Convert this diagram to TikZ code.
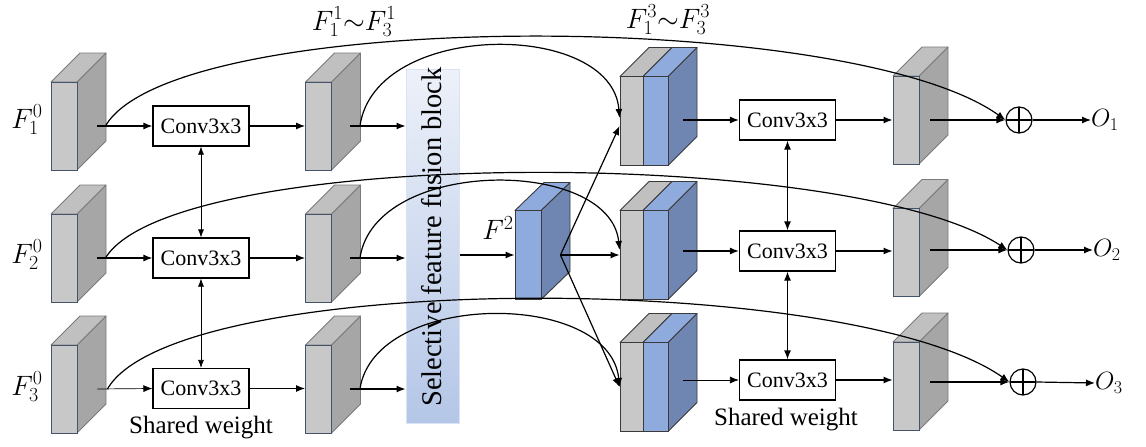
\RequirePackage{fix-cm}
\documentclass[tikz,border=0pt]{standalone}
\usepackage{fontspec}
\setmainfont{Liberation Serif}
\DeclareMathSizes{28}{28}{20}{15}
\DeclareMathSizes{25}{25}{18}{13}
\usetikzlibrary{arrows.meta}
\definecolor{gfrontc}{HTML}{C8C8C8}
\definecolor{gsidec}{HTML}{A6A6A6}
\definecolor{gtopc}{HTML}{C0C0C0}
\definecolor{bfrontc}{HTML}{8FAADC}
\definecolor{bsidec}{HTML}{6F86B2}
\definecolor{btopc}{HTML}{8FAADC}
\definecolor{fedgec}{HTML}{44546A}
\definecolor{gedgec}{HTML}{7A7A7A}
\definecolor{dedgec}{HTML}{3A3A3A}
\definecolor{fustop}{HTML}{EDF1F9}
\definecolor{fusbot}{HTML}{B4C6E7}
\definecolor{fusedge}{HTML}{DAE3F3}
\tikzset{
  gface/.style={draw=gedgec, line width=0.8pt, line join=round},
  dface/.style={draw=dedgec, line width=0.9pt, line join=round},
  gfrontbox/.style={draw=fedgec, fill=gfrontc, line width=0.9pt, minimum width=26pt, minimum height=88pt, inner sep=0pt},
  bfrontbox/.style={draw=dedgec, fill=bfrontc, line width=0.9pt, minimum height=89pt, inner sep=0pt},
  cgfrontbox/.style={draw=dedgec, fill=gfrontc, line width=0.9pt, minimum height=89pt, inner sep=0pt},
  arr/.style={-{Latex[length=9pt,width=7pt]}, line width=1.2pt},
  tarr/.style={-{Latex[length=9pt,width=7pt]}, line width=0.7pt},
  dblthin/.style={{Latex[length=8pt,width=6pt]}-{Latex[length=8pt,width=6pt]}, line width=0.7pt},
  dblthick/.style={{Latex[length=9pt,width=7pt]}-{Latex[length=9pt,width=7pt]}, line width=1.2pt},
  convbox/.style={draw, line width=1.2pt, minimum width=96pt, minimum height=40pt, inner sep=0pt, font=\fontsize{22}{24}\selectfont},
  oplusnode/.style={circle, draw, line width=1.2pt, minimum size=26pt, inner sep=0pt,
    path picture={\draw[line width=1.2pt] (path picture bounding box.north) -- (path picture bounding box.south)
      (path picture bounding box.west) -- (path picture bounding box.east);}},
  mlab/.style={inner sep=0pt, font=\fontsize{28}{30}\selectfont},
  olab/.style={inner sep=0pt, font=\fontsize{25}{28}\selectfont},
  txtlab/.style={inner sep=0pt, font=\fontsize{25}{28}\selectfont},
  fusbox/.style={shade, top color=fustop, bottom color=fusbot, draw=fusedge, line width=1pt, minimum width=53pt, minimum height=354pt, inner sep=0pt},
}
% gray cuboid: name, center x, center y of front face
\newcommand\gcube[3]{%
  \filldraw[gface, fill=gsidec] (#2+13,#3-44) -- ++(29,-29) -- ++(0,88) -- (#2+13,#3+44) -- cycle;
  \filldraw[gface, fill=gtopc] (#2-13,#3-44) -- ++(29,-29) -- ++(26,0) -- (#2+13,#3-44) -- cycle;
  \node[gfrontbox] (#1) at (#2,#3) {};}
% blue cuboid
\newcommand\bcube[3]{%
  \filldraw[dface, fill=bsidec] (#2+13,#3-44.5) -- ++(29,-28) -- ++(0,89) -- (#2+13,#3+44.5) -- cycle;
  \filldraw[dface, fill=btopc] (#2-13,#3-44.5) -- ++(29,-28) -- ++(26,0) -- (#2+13,#3-44.5) -- cycle;
  \node[bfrontbox, minimum width=26pt] (#1) at (#2,#3) {};}
% concatenated cuboid: name, left x, center y
\newcommand\ccube[3]{%
  \filldraw[dface, fill=bsidec] (#2+48,#3-44.5) -- ++(29,-29) -- ++(0,89) -- (#2+48,#3+44.5) -- cycle;
  \filldraw[dface, fill=gtopc] (#2,#3-44.5) -- ++(29,-29) -- ++(23,0) -- (#2+23,#3-44.5) -- cycle;
  \filldraw[dface, fill=btopc] (#2+23,#3-44.5) -- ++(29,-29) -- ++(25,0) -- (#2+48,#3-44.5) -- cycle;
  \node[cgfrontbox, minimum width=23pt] (#1) at (#2+11.5,#3) {};
  \node[bfrontbox, minimum width=25pt] (#1b) at (#2+35.5,#3) {};}

\begin{document}
\begin{tikzpicture}[x=1pt,y=-1pt]
\useasboundingbox (0,0) rectangle (1146,447);

% fusion block
\node[fusbox] (fus) at (432.5,246) {};
\node[txtlab, rotate=90, font=\fontsize{28.5}{30}\selectfont] (fustxt) at (432,237) {Selective feature fusion block};

% input cuboids
\gcube{a1}{64}{126}
\gcube{a2}{64}{258}
\gcube{a3}{64}{389}
% after conv cuboids
\gcube{b1}{318.5}{126}
\gcube{b2}{318.5}{258}
\gcube{b3}{318.5}{389}
% F2
\bcube{f2}{528}{255}
% concatenated
\ccube{cat1}{620}{121}
\ccube{cat2}{620}{255}
\ccube{cat3}{620}{387}
% output cuboids
\gcube{r1}{906}{120}
\gcube{r2}{906}{252.5}
\gcube{r3}{906}{386}

% conv boxes
\node[convbox] (c1) at (201,126) {Conv3x3};
\node[convbox] (c2) at (201,258) {Conv3x3};
\node[convbox] (c3) at (201,388.5) {Conv3x3};
\node[convbox] (d1) at (787.5,120) {Conv3x3};
\node[convbox] (d2) at (787.5,251) {Conv3x3};
\node[convbox] (d3) at (787.5,380) {Conv3x3};

% oplus
\node[oplusnode] (p1) at (1019,120) {};
\node[oplusnode] (p2) at (1021,250) {};
\node[oplusnode] (p3) at (1023,382) {};

% labels
\node[mlab] (l10) at (27,120) {$F_1^0$};
\node[mlab] (l20) at (27,255) {$F_2^0$};
\node[mlab] (l30) at (27,387) {$F_3^0$};
\node[mlab] (lf1) at (354,22) {$F_1^1{\sim}F_3^1$};
\node[mlab] (lf3) at (668,20) {$F_1^3{\sim}F_3^3$};
\node[mlab] (lf2) at (498,228) {$F^2$};
\node[olab, anchor=west] (o1) at (1091,120) {$O_1$};
\node[olab, anchor=west] (o2) at (1093,250) {$O_2$};
\node[olab, anchor=west] (o3) at (1095,383) {$O_3$};
\node[txtlab] (sw1) at (201,428) {Shared weight};
\node[txtlab] (sw2) at (786,420) {Shared weight};

% start coordinates
\coordinate (a1s) at ([xshift=20pt]a1.east);
\coordinate (a2s) at ([xshift=20pt]a2.east);
\coordinate (a3s) at ([xshift=20pt]a3.east);
\coordinate (a1k) at ([xshift=28pt]a1.east);
\coordinate (a2k) at ([xshift=28pt]a2.east);
\coordinate (a3k) at ([xshift=30pt]a3.east);
\coordinate (b1s) at ([xshift=18pt]b1.east);
\coordinate (b2s) at ([xshift=18pt]b2.east);
\coordinate (b3s) at ([xshift=18pt]b3.east);
\coordinate (b1k) at ([xshift=28pt]b1.east);
\coordinate (b2k) at ([xshift=28pt]b2.east);
\coordinate (b3k) at ([xshift=28pt]b3.east);
\coordinate (f2s) at ([xshift=19pt]f2.east);
\coordinate (e1) at ([xshift=15pt]cat1b.east);
\coordinate (e2) at ([xshift=15pt]cat2b.east);
\coordinate (e3) at ([xshift=15pt]cat3b.east);
\coordinate (r1s) at ([xshift=11pt]r1.east);
\coordinate (r2s) at ([xshift=11pt]r2.east);
\coordinate (r3s) at ([xshift=11pt]r3.east);

% left rows
\draw[arr] (a1s) -- (c1.west);
\draw[arr] (a2s) -- (c2.west);
\draw[tarr] (a3s) -- (c3.west);
\draw[arr] (c1.east) -- (b1.west);
\draw[arr] (c2.east) -- (b2.west);
\draw[arr] (c3.east) -- (b3.west |- c3.east);
\draw[arr] (b1s) -- (fus.west |- b1s);
\draw[arr] (b2s) -- (fus.west |- b2s);
\draw[arr] (b3s) -- (fus.west |- b3s);
\draw[dblthin] (c1.south) -- (c2.north);
\draw[dblthin] (c2.south) -- (c3.north);

% fusion to F2 and distribution
\draw[arr] (fus.east |- f2.west) -- (f2.west);
\draw[arr] (f2s) -- (cat2.west);
\draw[arr] (f2s) -- ([yshift=-5pt]cat1.west);
\draw[arr] (f2s) -- (cat3.west);

% short curves
\draw[arr] (b1k) .. controls (375,20) and (612,20) .. ([yshift=3pt]cat1.west);
\draw[arr] (b2k) .. controls (375,157) and (610,157) .. ([yshift=5pt]cat2.west);
\draw[arr] (b3k) .. controls (375,290) and (610,290) .. (cat3.west);

% long skip curves
\draw[arr] (a1k) .. controls (174,8) and (849,8) .. (p1.west);
\draw[arr] (a2k) .. controls (174,146) and (849,146) .. (p2.west);
\draw[arr] (a3k) .. controls (176,270) and (850,270) .. (p3.west);

% right rows
\draw[arr] (e1 |- d1.west) -- (d1.west);
\draw[arr] (e2 |- d2.west) -- (d2.west);
\draw[tarr] (e3 |- d3.west) -- (d3.west);
\draw[arr] (d1.east) -- (r1.west |- d1.east);
\draw[arr] (d2.east) -- (r2.west |- d2.east);
\draw[arr] (d3.east) -- (r3.west |- d3.east);
\draw[arr] (r1s |- p1.west) -- (p1.west);
\draw[arr] (r2s |- p2.west) -- (p2.west);
\draw[arr] (r3s |- p3.west) -- (p3.west);
\draw[arr] (p1.east) -- (o1.west);
\draw[arr] (p2.east) -- (o2.west);
\draw[arr] (p3.east) -- (o3.west);
\draw[dblthick] (d1.south) -- (d2.north);
\draw[dblthick] (d2.south) -- (d3.north);
\end{tikzpicture}
\end{document}
